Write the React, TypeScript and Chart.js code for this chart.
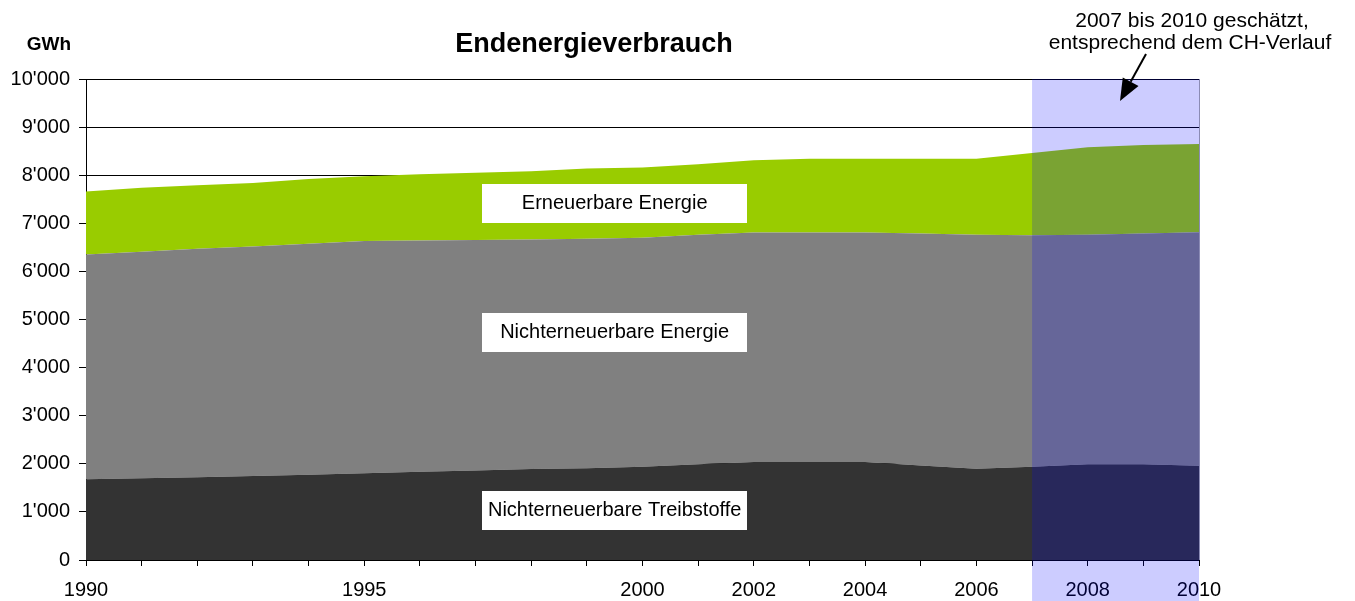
import React, { useEffect, useRef } from "react";
import { Chart, registerables } from "chart.js";

Chart.register(...registerables);

// ---- data ----
const years = [
  "1990", "1991", "1992", "1993", "1994", "1995", "1996", "1997", "1998", "1999",
  "2000", "2001", "2002", "2003", "2004", "2005", "2006", "2007", "2008", "2009", "2010",
];
const shownYearLabels = ["1990", "1995", "2000", "2002", "2004", "2006", "2008", "2010"];

const treibstoffe = [
  1680, 1700, 1720, 1745, 1770, 1805, 1835, 1860, 1890, 1910,
  1940, 1990, 2040, 2035, 2040, 1965, 1895, 1940, 1990, 1990, 1960,
];
const nichterneuerbar = [
  4670, 4710, 4750, 4775, 4805, 4825, 4810, 4795, 4775, 4770,
  4760, 4770, 4770, 4775, 4770, 4825, 4865, 4810, 4770, 4800, 4855,
];
const erneuerbar = [
  1310, 1330, 1320, 1320, 1345, 1350, 1375, 1395, 1415, 1460,
  1460, 1470, 1500, 1530, 1530, 1550, 1580, 1710, 1820, 1840, 1835,
];

const seriesNames = ["Nichterneuerbare Treibstoffe", "Nichterneuerbare Energie", "Erneuerbare Energie"];
const seriesLabelValues = [1020, 4730, 7410]; // vertical anchor of the in-chart labels (GWh)
const yTicks = { min: 0, max: 10000, step: 1000 };
const estimateFrom = "2007";
const estimateTo = "2010";
const titleText = "Endenergieverbrauch";
const unitText = "GWh";
const noteLines = ["2007 bis 2010 geschätzt,", "entsprechend dem CH-Verlauf"];

const FONT = "'Liberation Sans', Arial, Helvetica, sans-serif";

const fmt = (v: number) => String(v).replace(/\B(?=(\d{3})+(?!\d))/g, "'");

const overlayPlugin = {
  id: "overlay",
  afterDraw(chart: any) {
    const { ctx, scales } = chart;
    const x = scales.x;
    const y = scales.y;
    ctx.save();

    // title and unit
    ctx.fillStyle = "#000";
    ctx.textBaseline = "alphabetic";
    ctx.textAlign = "center";
    ctx.font = `bold 27px ${FONT}`;
    ctx.fillText(titleText, 594, 52);
    ctx.font = `bold 19px ${FONT}`;
    ctx.fillText(unitText, 49, 50);

    // series label boxes
    const cx = (x.getPixelForValue(9) + x.getPixelForValue(10)) / 2;
    const bw = 265;
    const bh = 39;
    seriesNames.forEach((name, i) => {
      const cy = y.getPixelForValue(seriesLabelValues[i]);
      ctx.fillStyle = "#ffffff";
      ctx.fillRect(Math.round(cx - bw / 2), Math.round(cy - bh / 2), bw, bh);
      ctx.fillStyle = "#000";
      ctx.font = `20px ${FONT}`;
      ctx.textAlign = "center";
      ctx.textBaseline = "middle";
      ctx.fillText(name, cx, cy);
    });

    // estimate shading
    const xs = x.getPixelForValue(years.indexOf(estimateFrom));
    const xe = x.getPixelForValue(years.indexOf(estimateTo));
    const top = y.getPixelForValue(yTicks.max);
    ctx.fillStyle = "rgba(0,0,255,0.2)";
    ctx.fillRect(xs, top, xe - xs, chart.height - top);
    ctx.strokeStyle = "rgba(90,90,150,0.7)";
    ctx.lineWidth = 1;
    ctx.beginPath();
    ctx.moveTo(Math.round(xe) + 0.5, top);
    ctx.lineTo(Math.round(xe) + 0.5, y.getPixelForValue(0));
    ctx.stroke();

    // note text
    ctx.fillStyle = "#000";
    ctx.font = `21px ${FONT}`;
    ctx.textAlign = "center";
    ctx.textBaseline = "alphabetic";
    ctx.fillText(noteLines[0], 1192, 27);
    ctx.fillText(noteLines[1], 1190, 49);

    // arrow
    const ax0 = 1146, ay0 = 54, ax1 = 1120, ay1 = 101;
    const dx = ax1 - ax0, dy = ay1 - ay0;
    const len = Math.hypot(dx, dy);
    const ux = dx / len, uy = dy / len;
    const hl = 22, hw = 9;
    const bx = ax1 - ux * hl, by = ay1 - uy * hl;
    ctx.strokeStyle = "#000";
    ctx.lineWidth = 2;
    ctx.beginPath();
    ctx.moveTo(ax0, ay0);
    ctx.lineTo(bx, by);
    ctx.stroke();
    ctx.fillStyle = "#000";
    ctx.beginPath();
    ctx.moveTo(ax1, ay1);
    ctx.lineTo(bx - uy * hw, by + ux * hw);
    ctx.lineTo(bx + uy * hw, by - ux * hw);
    ctx.closePath();
    ctx.fill();

    ctx.restore();
  },
};

export default function App() {
  const canvasRef = useRef<HTMLCanvasElement | null>(null);

  useEffect(() => {
    if (!canvasRef.current) return;
    const chart = new Chart(canvasRef.current, {
      type: "line",
      data: {
        labels: years,
        datasets: [
          {
            label: seriesNames[0],
            data: treibstoffe,
            backgroundColor: "#333333",
            borderWidth: 0,
            pointRadius: 0,
            fill: "origin",
            tension: 0,
          },
          {
            label: seriesNames[1],
            data: nichterneuerbar,
            backgroundColor: "#808080",
            borderWidth: 0,
            pointRadius: 0,
            fill: "-1",
            tension: 0,
          },
          {
            label: seriesNames[2],
            data: erneuerbar,
            backgroundColor: "#99cc00",
            borderWidth: 0,
            pointRadius: 0,
            fill: "-1",
            tension: 0,
          },
        ],
      },
      options: {
        responsive: false,
        animation: false,
        devicePixelRatio: 1,
        layout: { padding: { left: 0, right: 156, top: 79, bottom: 0 } },
        plugins: {
          legend: { display: false },
          tooltip: { enabled: false },
          title: { display: false },
        },
        scales: {
          x: {
            type: "category",
            offset: false,
            grid: {
              drawOnChartArea: false,
              drawTicks: true,
              tickLength: 6,
              color: "#000",
            },
            border: { display: true, color: "#000", width: 1 },
            ticks: {
              autoSkip: false,
              maxRotation: 0,
              minRotation: 0,
              padding: 12,
              color: "#000",
              font: { family: FONT, size: 20 },
              callback: (_v: any, i: number) =>
                shownYearLabels.includes(years[i]) ? years[i] : "",
            },
            afterFit: (scale: any) => {
              scale.height = 41;
            },
          },
          y: {
            stacked: true,
            min: yTicks.min,
            max: yTicks.max,
            grid: {
              color: "#000",
              lineWidth: 1,
              drawTicks: true,
              tickLength: 7,
            },
            border: { display: true, color: "#000", width: 1 },
            ticks: {
              stepSize: yTicks.step,
              padding: 9,
              color: "#000",
              font: { family: FONT, size: 20 },
              callback: (v: any) => fmt(Number(v)),
            },
            afterFit: (scale: any) => {
              scale.width = 86;
            },
          },
        },
      },
      plugins: [overlayPlugin],
    });
    return () => chart.destroy();
  }, []);

  return (
    <canvas
      ref={canvasRef}
      width={1355}
      height={601}
      style={{ position: "fixed", left: 0, top: 0, width: 1355, height: 601, display: "block", background: "#fff" }}
    />
  );
}
